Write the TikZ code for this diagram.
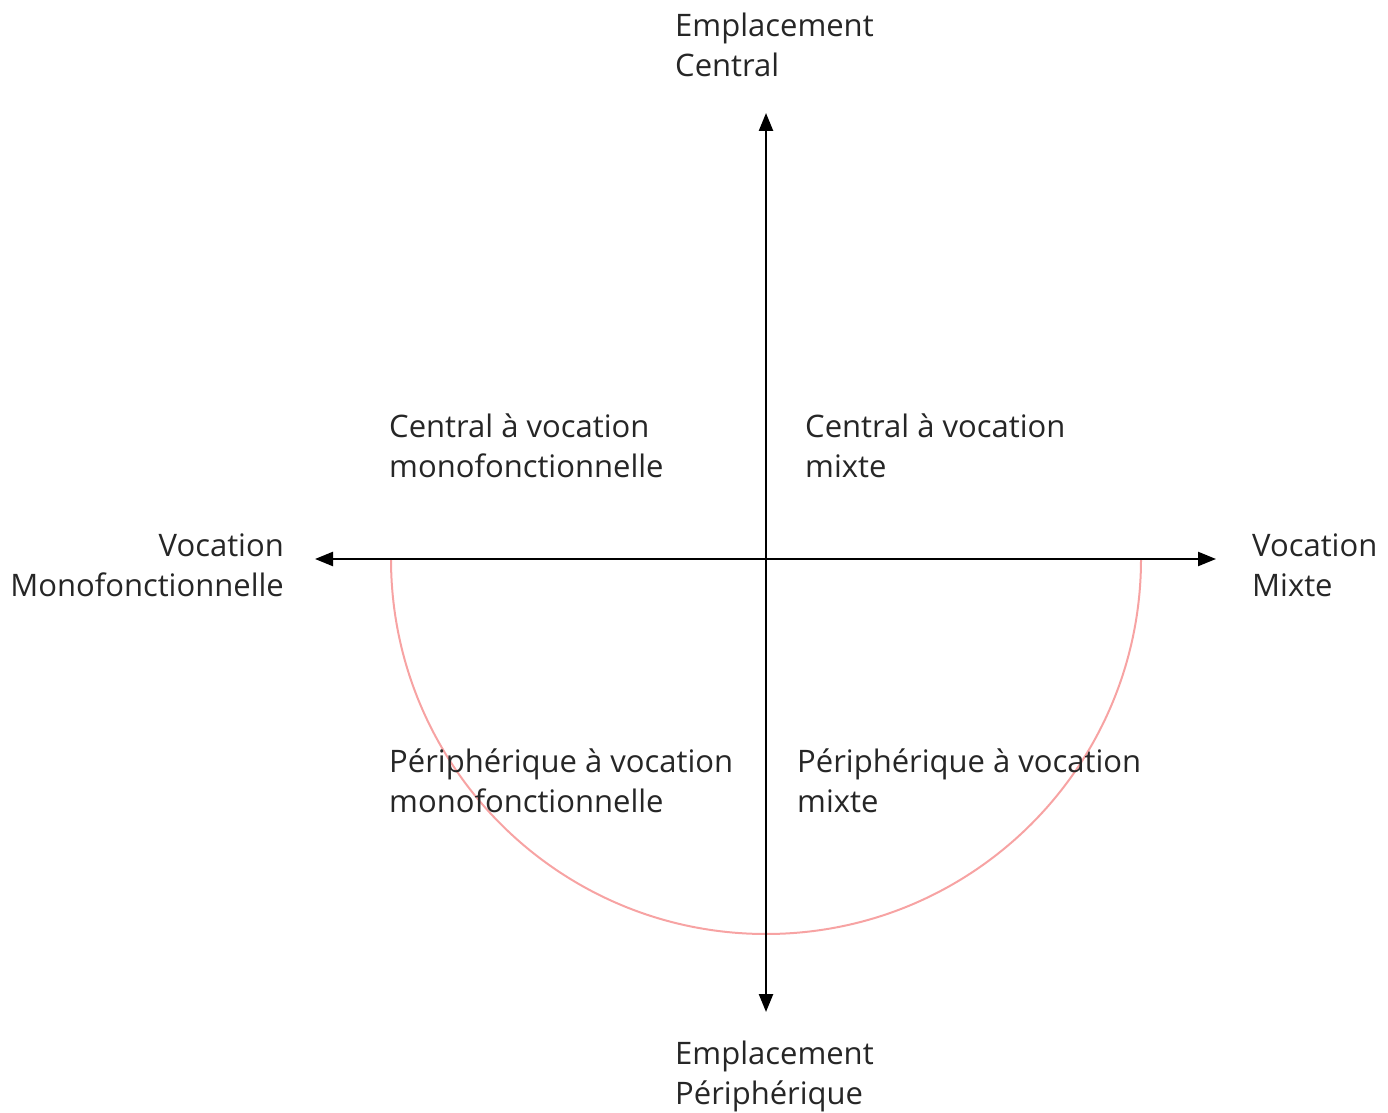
\documentclass[tikz,border=0pt]{standalone}
\usepackage{fontspec}
\setmainfont{Open Sans}
\usetikzlibrary{arrows.meta}
\definecolor{txt}{HTML}{262626}
\definecolor{arcred}{HTML}{F7A3A3}
\begin{document}
\begin{tikzpicture}[x=1pt,y=1pt,
  lbl/.style={inner sep=0pt, text=txt, align=left, font=\fontsize{31}{40}\selectfont},
  axis/.style={line width=2.4pt, -{Triangle[length=18pt,width=14pt]}}]
\useasboundingbox (0,0) rectangle (1388,1112);
\coordinate (O) at (766,553);
\coordinate (T) at (766,999);
\coordinate (B) at (766,100);
\coordinate (L) at (315,553);
\coordinate (R) at (1216,553);
\coordinate (A) at (391,553);
\draw[arcred, line width=2pt] (A) arc[start angle=180, end angle=360, radius=375];
\draw[axis] (O) -- (T);
\draw[axis] (O) -- (B);
\draw[axis] (O) -- (L);
\draw[axis] (O) -- (R);
\node[lbl, anchor=base west] (nt) at (675,1035) {Emplacement\\Central};
\node[lbl, anchor=base west] (nb) at (675,8) {Emplacement\\Périphérique};
\node[lbl, anchor=base east, align=right] (nl) at (284,515) {Vocation\\Monofonctionnelle};
\node[lbl, anchor=base west] (nr) at (1252,515) {Vocation\\Mixte};
\node[lbl, anchor=base west] (q1) at (389,634) {Central à vocation\\monofonctionnelle};
\node[lbl, anchor=base west] (q2) at (805,634) {Central à vocation\\mixte};
\node[lbl, anchor=base west] (q3) at (389,300) {Périphérique à vocation\\monofonctionnelle};
\node[lbl, anchor=base west] (q4) at (797,300) {Périphérique à vocation\\mixte};
\end{tikzpicture}
\end{document}
